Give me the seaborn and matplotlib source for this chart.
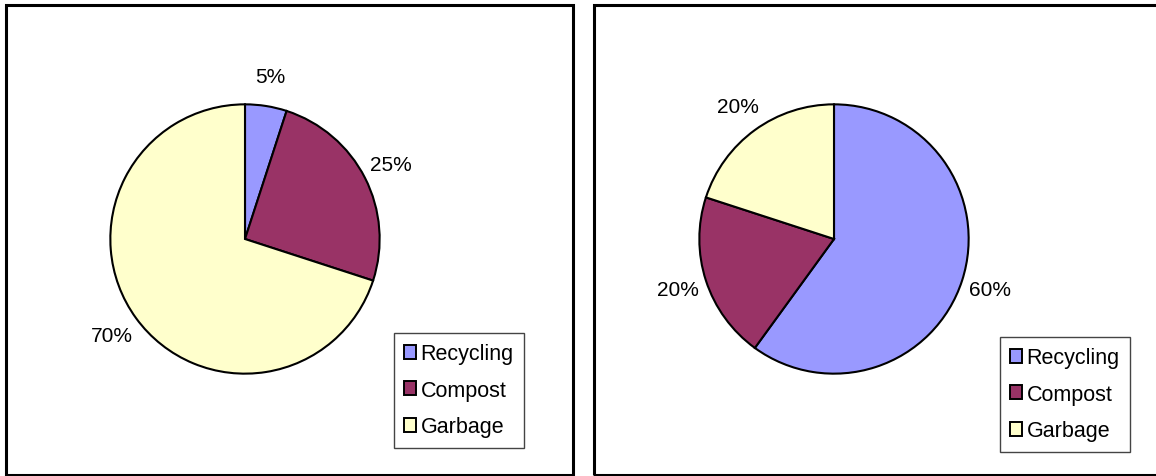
import matplotlib
matplotlib.use("Agg")
import matplotlib.pyplot as plt
from matplotlib.patches import Rectangle, Patch
import seaborn as sns

categories = ["Recycling", "Compost", "Garbage"]
left_values = [5, 25, 70]
right_values = [60, 20, 20]
colors = ["#9999FF", "#993366", "#FFFFCC"]

sns.set_theme(style="white")
plt.rcParams["font.family"] = ["Liberation Sans", "DejaVu Sans"]
plt.rcParams["text.color"] = "black"

W, H = 1156, 477
fig = plt.figure(figsize=(W / 100, H / 100), dpi=100)
fig.patch.set_facecolor("white")


def px_axes(cx, cy, r):
    # square axes around pie in pixel coords (top-left origin)
    return fig.add_axes([(cx - r) / W, (H - (cy + r)) / H, 2 * r / W, 2 * r / H])


def draw_pie(ax, values):
    ax.pie(values, colors=colors, startangle=90, counterclock=False,
           radius=1.0, autopct="%.0f%%", pctdistance=1.22,
           wedgeprops=dict(edgecolor="black", linewidth=1.5),
           textprops=dict(fontsize=15, color="black"))
    ax.set_xlim(-1.01, 1.01)
    ax.set_ylim(-1.01, 1.01)
    ax.set_aspect("equal")
    ax.axis("off")


ax1 = px_axes(245, 240, 136)
draw_pie(ax1, left_values)
ax2 = px_axes(834, 240, 136)
draw_pie(ax2, right_values)

# panel borders
for x0, x1 in [(6, 573), (594, 1160)]:
    fig.patches.append(Rectangle((x0 / W, (H - 476) / H), (x1 - x0) / W, (476 - 6) / H,
                                 transform=fig.transFigure, fill=False,
                                 edgecolor="black", linewidth=2.2, zorder=0))

handles = [Patch(facecolor=c, edgecolor="black", linewidth=1.4) for c in colors]
for lx, ly in [(394, 334), (1000, 338)]:
    leg = fig.legend(handles, categories, loc="upper left",
                     bbox_to_anchor=(lx / W, (H - ly) / H), borderaxespad=0,
                     fontsize=15.5, frameon=True, fancybox=False, shadow=False,
                     handlelength=0.55, handleheight=0.65, handletextpad=0.2,
                     labelspacing=0.72, borderpad=0.48, labelcolor="black")
    fr = leg.get_frame()
    fr.set_edgecolor("#444444")
    fr.set_linewidth(1.0)
    fr.set_facecolor("white")
    fr.set_alpha(1)

fig.savefig("out.png", dpi=100, facecolor="white")
